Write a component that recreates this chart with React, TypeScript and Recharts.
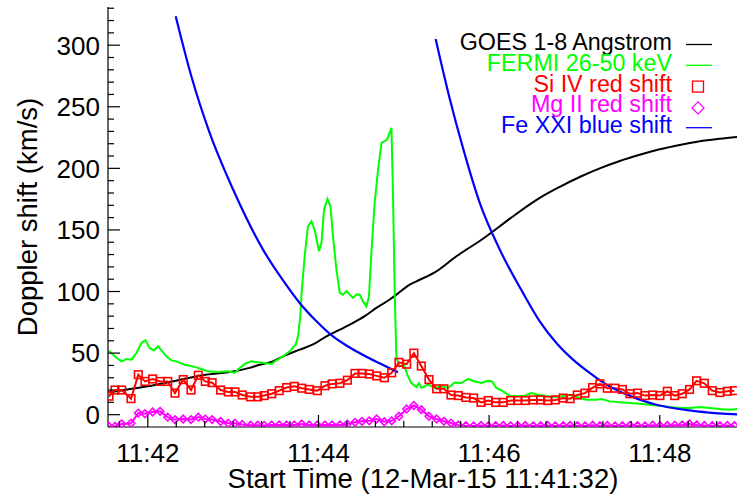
import React from 'react';
import { ComposedChart, Line, XAxis, YAxis, Legend } from 'recharts';

const FONT = '"Liberation Sans", Arial, Helvetica, sans-serif';

// x values are seconds after 11:41:32
const xTickValues = [8, 28, 48, 68, 88, 108, 128, 148, 168, 188, 208, 228, 248, 268, 288, 308, 328, 348, 368, 388, 408, 428];
const xMajorTicks = [28, 148, 268, 388];
const xMajorLabels = ['11:42', '11:44', '11:46', '11:48'];
const yTickValues = [0, 10, 20, 30, 40, 50, 60, 70, 80, 90, 100, 110, 120, 130, 140, 150, 160, 170, 180, 190, 200, 210, 220, 230, 240, 250, 260, 270, 280, 290, 300, 310, 320, 330];
const yMajorTicks = [0, 50, 100, 150, 200, 250, 300];

const legendLabels = ['GOES 1-8 Angstrom', 'FERMI 26-50 keV', 'Si IV red shift', 'Mg II red shift', 'Fe XXI blue shift'];

const goesTimes = [0, 8.2, 27.9, 49.2, 66.5, 87.7, 99.6, 106.7, 116.0, 123.1, 134.8, 144.2, 153.6, 163.0, 172.3, 180.5, 188.7, 198.1, 202.8, 212.2, 216.9, 230.9, 245.0, 252.0, 261.4, 275.5, 289.5, 303.6, 317.7, 331.7, 345.8, 359.9, 373.9, 388.0, 402.0, 416.1, 430.1, 443];
const goesValues = [18, 19.5, 23, 28, 32, 35, 38, 40.6, 43.3, 47.4, 52.8, 57, 63.6, 69, 74.5, 80, 86.7, 93.5, 97.5, 105.6, 108.3, 116.4, 128.6, 134, 141, 153, 165, 176, 185, 193, 200, 206, 211, 215.5, 219, 222, 224, 225.5];

const fermiTimes = [0, 1.2, 4.7, 9.4, 12.9, 16.5, 20.0, 23.5, 26.3, 29.3, 32.3, 35.2, 37.6, 41.1, 44.6, 48.1, 53.9, 59.8, 65.7, 70.3, 77.4, 84.4, 89.1, 92.6, 96.1, 100.8, 105.5, 110.2, 114.9, 118.4, 123.1, 127.8, 132.0, 133.7, 135.2, 136.2, 138.3, 140.6, 143.0, 145.3, 148.4, 150.1, 151.9, 154.3, 156.4, 158.2, 160.6, 163.0, 165.3, 167.6, 170.0, 172.3, 174.7, 177.0, 179.3, 181.7, 183.5, 185.2, 187.5, 189.9, 192.3, 194.6, 196.2, 199.3, 200.4, 201.6, 202.8, 205.1, 207.9, 209.8, 211.0, 213.3, 216.9, 218.7, 220.4, 225.0, 229.8, 234.4, 239.1, 243.8, 248.5, 253.2, 257.9, 262.6, 267.2, 270.0, 273.1, 277.8, 282.5, 288.3, 293.0, 297.7, 302.4, 307.1, 311.8, 318.8, 324.7, 329.4, 336.4, 343.4, 347.0, 352.8, 359.9, 366.9, 373.9, 380.9, 388.0, 395.0, 402.0, 409.1, 416.1, 423.1, 430.1, 437.2, 443];
const fermiValues = [51.4, 51.4, 47.4, 43.3, 45.2, 44.7, 50.1, 58.2, 60.4, 54.2, 52.2, 55.5, 52.2, 47.4, 44.1, 43.3, 40.6, 39.2, 37.1, 35.2, 34.7, 35.2, 33.9, 37.9, 41.2, 43.3, 42.5, 42, 41.2, 44.1, 47.4, 51.4, 57, 64, 80, 100, 128.6, 153, 157, 150, 132.7, 139.5, 166.5, 175.2, 169.2, 144.8, 117.8, 98.9, 97.5, 100.2, 97.5, 94.8, 97.5, 97.5, 92, 88, 96, 131.4, 172, 199, 220.7, 222, 223.4, 232.9, 180, 98.9, 46, 39.2, 40.6, 35, 31.1, 25.7, 22.5, 25.7, 21.7, 24.4, 21.7, 23, 21.7, 26.2, 25.7, 29, 27, 25.7, 27.6, 27, 21.7, 18.9, 15.4, 14.9, 15.4, 17.6, 16.2, 15.4, 14.4, 14.9, 16.2, 14.4, 12.2, 12.2, 12.7, 10.8, 10, 9.5, 8.9, 8.1, 7.3, 6.2, 5.4, 5.4, 6.2, 5.4, 4.6, 4.1, 4.6];

const irisTimes = [0.7, 4.9, 9.6, 16.2, 21.3, 26.0, 31.4, 36.6, 42.0, 47.1, 52.9, 58.4, 63.5, 68.4, 73.2, 79.2, 84.6, 89.3, 94.4, 100.3, 105.3, 109.8, 115.1, 120.4, 125.6, 131.0, 136.2, 141.5, 147.2, 152.6, 157.6, 163.1, 168.3, 173.7, 178.6, 183.7, 188.9, 194.3, 199.5, 204.6, 210.0, 215.1, 220.3, 225.7, 231.1, 236.2, 241.2, 246.3, 251.7, 257.1, 262.3, 267.4, 272.6, 277.9, 283.1, 288.1, 293.4, 299.0, 304.2, 309.2, 314.5, 320.1, 324.9, 330.0, 335.4, 340.8, 345.9, 351.1, 356.5, 361.7, 367.0, 372.3, 377.6, 383.0, 388.1, 393.3, 398.5, 403.8, 408.9, 413.9, 419.3, 424.9, 430.3, 435.5, 440.4];
const siValues = [15, 20, 20, 13, 32.5, 27, 29, 27, 27, 17.5, 28.5, 20, 32, 27, 26, 20, 18.5, 18.5, 16, 14.5, 14.5, 15.5, 17, 19.5, 22, 23, 21.5, 20.5, 19.5, 23.5, 25, 25.5, 28, 33.5, 33.5, 33, 31.5, 30, 34, 42.5, 41, 50, 39.5, 28.5, 21, 21, 16, 15.5, 14, 13.5, 10, 11.5, 10, 10, 11.5, 11.5, 11.5, 12, 12, 11.5, 12, 13.5, 13, 16, 17.5, 22, 25, 21.5, 21.5, 20.5, 17, 17.5, 15.5, 16, 15.5, 19, 15.5, 17, 20.5, 27.5, 25.5, 19.5, 18, 19, 19.5];
const mgValues = [-9.5, -9.5, -7.5, -7, 1.3, 0.8, 2.2, 2.7, -2, -4, -3.5, -4, -2, -3.5, -4, -5.5, -7, -7, -8, -8.5, -8.5, -8.7, -8.4, -8.4, -8.4, -8.4, -7.6, -8.4, -8.4, -8.4, -8.4, -8.4, -7.6, -6.2, -5.4, -5, -3.5, -5.7, -5, -1.3, 4.6, 7.5, 4.1, -1.3, -3.5, -5.4, -6.8, -8.4, -8.9, -9.1, -8.7, -9.1, -8.9, -8.7, -9.1, -8.9, -8.7, -9.1, -8.9, -8.7, -9.1, -8.9, -8.7, -8.9, -9.1, -8.5, -8.9, -8.7, -9.1, -8.9, -8.7, -8.9, -9.1, -8.5, -8.9, -8.7, -8.5, -8.3, -7.5, -8.3, -8.7, -8.9, -9, -8.8, -8.9];

const fe1Times = [47.6, 58.6, 71.5, 87.9, 109.0, 123.1, 134.8, 146.6, 158.2, 170.0, 181.7, 193.4, 203.9];
const fe1Values = [323.5, 274.8, 228.8, 183, 134, 109, 90.7, 75.8, 63.5, 54.5, 47, 40.3, 34.5];
const fe2Times = [230.4, 240.0, 249.6, 261.4, 275.5, 291.8, 303.6, 315.3, 327.0, 338.7, 350.5, 362.2, 373.9, 385.6, 397.3, 409.1, 420.8, 432.5, 443];
const fe2Values = [305, 258, 216.6, 172, 134, 98.9, 75.8, 58.2, 44.7, 33.9, 24.4, 17.6, 12.2, 8.1, 5.4, 3.5, 1.9, 0.8, 0.2];

const toRows = (ts: number[], vs: number[]) => ts.map((t, i) => ({ t, v: vs[i] }));
const goesData = toRows(goesTimes, goesValues);
const fermiData = toRows(fermiTimes, fermiValues);
const siData = toRows(irisTimes, siValues);
const mgData = toRows(irisTimes, mgValues);
const fe1Data = toRows(fe1Times, fe1Values);
const fe2Data = toRows(fe2Times, fe2Values);

const AX = '#000';
const AXW = 1.2;

const BottomTick = (p: any) => {
  const idx = xMajorTicks.indexOf(p.payload.value);
  const major = idx >= 0;
  return (
    <g>
      <line x1={p.x} x2={p.x} y1={p.y} y2={p.y - (major ? 12 : 6)} stroke={AX} strokeWidth={AXW} />
      {major && (
        <text x={p.x} y={p.y + 35} textAnchor="middle" fontSize={26} fontFamily={FONT} fill="#000">
          {xMajorLabels[idx]}
        </text>
      )}
    </g>
  );
};
const TopTick = (p: any) => {
  const major = xMajorTicks.indexOf(p.payload.value) >= 0;
  return <line x1={p.x} x2={p.x} y1={p.y} y2={p.y + (major ? 12 : 6)} stroke={AX} strokeWidth={AXW} />;
};
const LeftTick = (p: any) => {
  const v = p.payload.value;
  const major = yMajorTicks.indexOf(v) >= 0;
  return (
    <g>
      <line x1={p.x} x2={p.x + (major ? 12 : 6)} y1={p.y} y2={p.y} stroke={AX} strokeWidth={AXW} />
      {major && (
        <text x={p.x - 8} y={p.y} dy="0.36em" textAnchor="end" fontSize={26} fontFamily={FONT} fill="#000">
          {v}
        </text>
      )}
    </g>
  );
};
const RightTick = (p: any) => {
  const major = yMajorTicks.indexOf(p.payload.value) >= 0;
  return <line x1={p.x} x2={p.x - (major ? 12 : 6)} y1={p.y} y2={p.y} stroke={AX} strokeWidth={AXW} />;
};

const XTitle = (p: any) => {
  const vb = p.viewBox || {};
  return (
    <text x={vb.x + vb.width / 2} y={vb.y + 61} textAnchor="middle" fontSize={27.5} fontFamily={FONT} fill="#000">
      Start Time (12-Mar-15 11:41:32)
    </text>
  );
};
const YTitle = (p: any) => {
  const vb = p.viewBox || {};
  const cy = vb.y + vb.height / 2;
  return (
    <text x={37} y={cy} transform={`rotate(-90, 37, ${cy})`} textAnchor="middle" fontSize={27.5} fontFamily={FONT} fill="#000">
      Doppler shift (km/s)
    </text>
  );
};

const SquareDot = (p: any) => {
  if (p.cx == null || p.cy == null) return <g key={p.index} />;
  return <rect key={p.index} x={p.cx - 3.8} y={p.cy - 3.8} width={7.6} height={7.6} fill="none" stroke="#ff0000" strokeWidth={1.6} />;
};
const DiamondDot = (p: any) => {
  if (p.cx == null || p.cy == null) return <g key={p.index} />;
  const r = 3.8;
  return (
    <polygon
      key={p.index}
      points={`${p.cx},${p.cy - r} ${p.cx + r},${p.cy} ${p.cx},${p.cy + r} ${p.cx - r},${p.cy}`}
      fill="none"
      stroke="#ff00ff"
      strokeWidth={1.6}
    />
  );
};

const legendColors = ['#000000', '#00ff00', '#ff0000', '#ff00ff', '#0000ff'];
const LegendContent = () => {
  const textRight = 672;
  const base0 = 50;
  const step = 20.8;
  return (
    <svg width={738} height={150} style={{ display: 'block', pointerEvents: 'none' }}>
      {legendLabels.map((lab, i) => {
        const b = base0 + i * step;
        const c = legendColors[i];
        let sym: React.ReactNode;
        if (i === 2) {
          sym = <rect x={698 - 5.5} y={b - 5 - 5.5} width={11} height={11} fill="none" stroke={c} strokeWidth={1.3} />;
        } else if (i === 3) {
          const cy = b - 4.5;
          sym = <polygon points={`698,${cy - 6} 704,${cy} 698,${cy + 6} 692,${cy}`} fill="none" stroke={c} strokeWidth={1.3} />;
        } else {
          sym = <line x1={686} x2={712} y1={b - 5.5} y2={b - 5.5} stroke={c} strokeWidth={1.3} />;
        }
        return (
          <g key={lab}>
            <text x={textRight} y={b} textAnchor="end" fontSize={23.3} fontFamily={FONT} fill={c}>
              {lab}
            </text>
            {sym}
          </g>
        );
      })}
    </svg>
  );
};

export default function App() {
  return (
    <div style={{ position: 'absolute', left: 0, top: 0, width: 737, height: 496, overflow: 'hidden', background: '#fff' }}>
      <ComposedChart width={738} height={496} margin={{ top: 7, right: 0, bottom: 0, left: 0 }}>
        <XAxis
          xAxisId="b"
          type="number"
          dataKey="t"
          domain={[0, 443]}
          allowDataOverflow
          ticks={xTickValues}
          interval={0}
          tickSize={0}
          tickMargin={0}
          tickLine={false}
          height={69}
          axisLine={{ stroke: AX, strokeWidth: AXW }}
          tick={BottomTick}
          label={XTitle}
        />
        <XAxis
          xAxisId="top"
          orientation="top"
          type="number"
          dataKey="t"
          domain={[0, 443]}
          allowDataOverflow
          ticks={xTickValues}
          interval={0}
          tickSize={0}
          tickMargin={0}
          tickLine={false}
          height={0}
          axisLine={{ stroke: AX, strokeWidth: AXW }}
          tick={TopTick}
        />
        <YAxis
          yAxisId="l"
          type="number"
          domain={[-10, 331]}
          allowDataOverflow
          ticks={yTickValues}
          interval={0}
          tickSize={0}
          tickMargin={0}
          tickLine={false}
          width={108}
          axisLine={{ stroke: AX, strokeWidth: AXW }}
          tick={LeftTick}
          label={YTitle}
        />
        <YAxis
          yAxisId="r"
          orientation="right"
          type="number"
          domain={[-10, 331]}
          allowDataOverflow
          ticks={yTickValues}
          interval={0}
          tickSize={0}
          tickMargin={0}
          tickLine={false}
          width={0}
          axisLine={{ stroke: AX, strokeWidth: AXW }}
          tick={RightTick}
        />
        <Legend
          layout="vertical"
          align="center"
          verticalAlign="middle"
          wrapperStyle={{ left: 0, top: 0, width: 738, height: 150, margin: 0, padding: 0 }}
          content={LegendContent}
        />
        <Line xAxisId="b" yAxisId="l" data={goesData} dataKey="v" type="monotone" stroke="#000000" strokeWidth={2} dot={false} isAnimationActive={false} name="GOES" />
        <Line xAxisId="b" yAxisId="l" data={fermiData} dataKey="v" type="linear" stroke="#00ff00" strokeWidth={2} dot={false} isAnimationActive={false} name="FERMI" />
        <Line xAxisId="b" yAxisId="l" data={siData} dataKey="v" type="linear" stroke="#ff0000" strokeWidth={2} dot={SquareDot} isAnimationActive={false} name="SiIV" />
        <Line xAxisId="b" yAxisId="l" data={mgData} dataKey="v" type="linear" stroke="#ff00ff" strokeWidth={2} dot={DiamondDot} isAnimationActive={false} name="MgII" />
        <Line xAxisId="b" yAxisId="l" data={fe1Data} dataKey="v" type="monotone" stroke="#0000ff" strokeWidth={2.2} dot={false} isAnimationActive={false} name="FeXXI" />
        <Line xAxisId="b" yAxisId="l" data={fe2Data} dataKey="v" type="monotone" stroke="#0000ff" strokeWidth={2.2} dot={false} isAnimationActive={false} name="FeXXI2" />
      </ComposedChart>
    </div>
  );
}
